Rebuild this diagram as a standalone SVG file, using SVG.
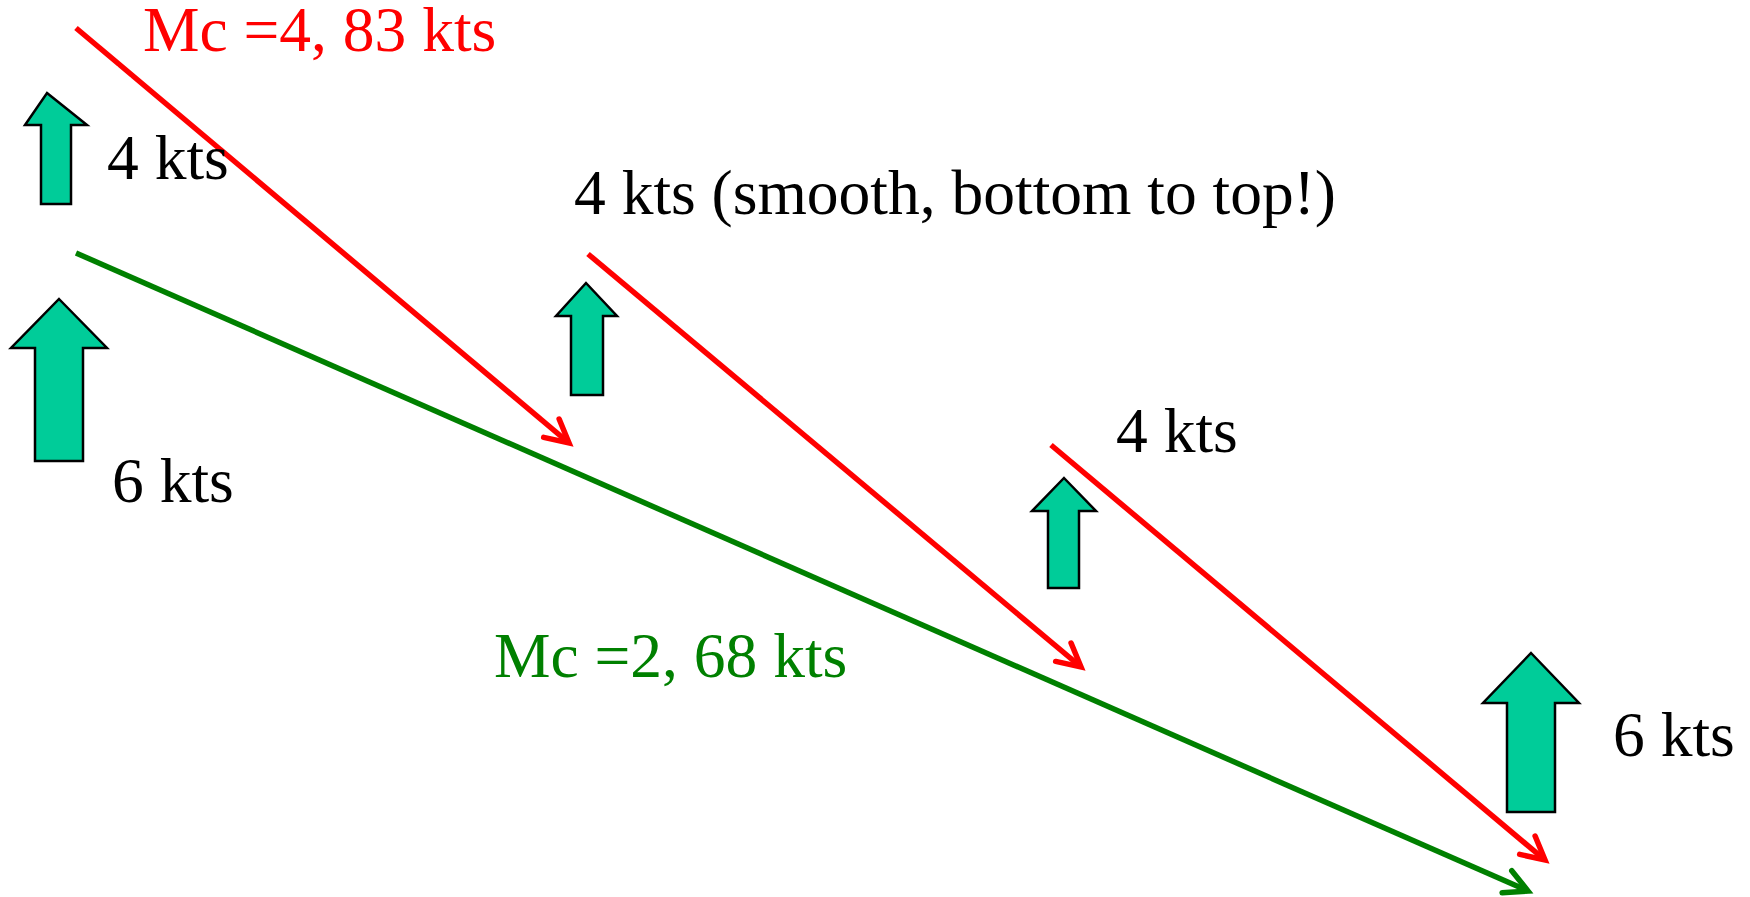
<svg xmlns="http://www.w3.org/2000/svg" width="1750" height="897" viewBox="0 0 1750 897">
<style>
.t{font-family:"Liberation Serif","Times New Roman",serif;font-size:63.5px;fill:#000}
.red{fill:#FF0000}
.grn{fill:#008000}
.up{fill:#00CC99;stroke:#000;stroke-width:2.5;stroke-linejoin:miter}
.rl{stroke:#FF0000;stroke-width:5.5;fill:none}
.gl{stroke:#008000;stroke-width:5.5;fill:none}
</style>
<defs>
<marker id="mr" markerUnits="userSpaceOnUse" markerWidth="40" markerHeight="40" viewBox="-30 -20 40 40" refX="0" refY="0" orient="auto">
<path d="M-23,-12 L0,0 L-23,12" fill="none" stroke="#FF0000" stroke-width="5.5" stroke-linecap="round" stroke-linejoin="miter"/>
</marker>
<marker id="mg" markerUnits="userSpaceOnUse" markerWidth="40" markerHeight="40" viewBox="-30 -20 40 40" refX="0" refY="0" orient="auto">
<path d="M-23,-12 L0,0 L-23,12" fill="none" stroke="#008000" stroke-width="5.5" stroke-linecap="round" stroke-linejoin="miter"/>
</marker>
</defs>
<rect width="1750" height="897" fill="#fff"/>
<g id="connectors">
<line class="rl" x1="76" y1="28" x2="569" y2="443" marker-end="url(#mr)"/>
<line class="rl" x1="588" y1="254" x2="1081" y2="667" marker-end="url(#mr)"/>
<line class="rl" x1="1051" y1="445" x2="1545" y2="860" marker-end="url(#mr)"/>
<line class="gl" x1="76" y1="253" x2="1528" y2="891" marker-end="url(#mg)"/>
<path d="M116,66 L116,76 M121,79 L131,79" stroke="#fff" stroke-width="2.5" fill="none"/>
</g>
<g id="arrowA"><polygon class="up" points="47,93 87,125 71,125 71,204 41,204 41,125 25,125"/></g>
<g id="arrowB"><polygon class="up" points="59,299 107,348 83,348 83,461 35,461 35,348 11,348"/></g>
<g id="arrowC"><polygon class="up" points="586,283 617,316 603,316 603,395 571,395 571,316 556,316"/></g>
<g id="arrowD"><polygon class="up" points="1064,478 1096,511 1079,511 1079,588 1048,588 1048,511 1032,511"/></g>
<g id="arrowE"><polygon class="up" points="1531,653 1579,703 1555,703 1555,812 1507,812 1507,703 1483,703"/></g>
<g id="label-mc4"><text class="t red" x="143" y="51">Mc =4, 83 kts</text></g>
<g id="label-4a"><text class="t" x="107" y="179">4 kts</text></g>
<g id="label-4b"><text class="t" x="574" y="214">4 kts (smooth, bottom to top!)</text></g>
<g id="label-6a"><text class="t" x="112" y="502">6 kts</text></g>
<g id="label-4c"><text class="t" x="1116" y="452">4 kts</text></g>
<g id="label-mc2"><text class="t grn" x="494" y="677">Mc =2, 68 kts</text></g>
<g id="label-6b"><text class="t" x="1613" y="756">6 kts</text></g>
</svg>
